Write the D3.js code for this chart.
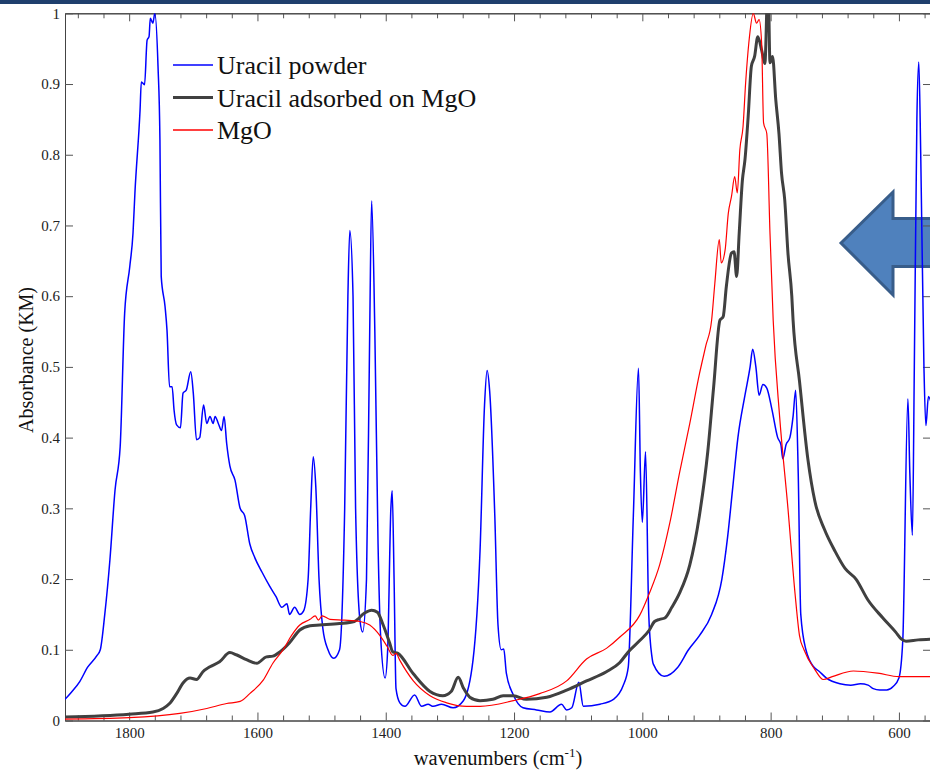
<!DOCTYPE html>
<html>
<head>
<meta charset="utf-8">
<script src="https://cdn.jsdelivr.net/npm/d3@7"></script>
<style>
body { margin: 0; background: #fff; }
svg { display: block; font-family: "Liberation Serif", "Times New Roman", serif; }
</style>
</head>
<body>
<div id="chart"></div>
<script>
// spectra: [wavenumber (cm-1), absorbance (KM)]
var uracilPowder = [
  [1900,0.030],[1890,0.040],[1877,0.055],[1865,0.075],[1850,0.092],[1845,0.10],[1838,0.15],[1830,0.227],
  [1822,0.326],[1814,0.387],[1807,0.576],[1799,0.642],[1794,0.689],[1791,0.746],[1783,0.863],[1781,0.903],
  [1776,0.899],[1772,0.962],[1769,0.967],[1767,0.993],[1763,0.986],[1760,1.0],[1755,0.925],[1752,0.821],
  [1750,0.628],[1744,0.585],[1741,0.552],[1737,0.472],[1733,0.472],[1730,0.439],[1726,0.418],[1720,0.414],
  [1716,0.463],[1711,0.467],[1704,0.493],[1700,0.463],[1695,0.397],[1690,0.40],[1684,0.446],[1679,0.42],
  [1674,0.43],[1669,0.42],[1666,0.43],[1661,0.42],[1656,0.41],[1652,0.43],[1648,0.392],[1643,0.36],
  [1635,0.34],[1627,0.30],[1620,0.29],[1612,0.25],[1604,0.23],[1593,0.21],[1581,0.19],[1571,0.175],
  [1562,0.16],[1554,0.165],[1550,0.15],[1542,0.16],[1534,0.15],[1528,0.155],[1521,0.20],[1517,0.30],
  [1513,0.373],[1509,0.33],[1504,0.20],[1498,0.13],[1490,0.10],[1481,0.088],[1472,0.10],[1464,0.30],
  [1459,0.60],[1456,0.693],[1451,0.60],[1447,0.30],[1440,0.14],[1436,0.125],[1430,0.20],[1425,0.55],
  [1422,0.735],[1417,0.55],[1412,0.25],[1408,0.12],[1401,0.06],[1397,0.10],[1392,0.30],[1390,0.325],
  [1387,0.20],[1384,0.045],[1378,0.025],[1370,0.02],[1355,0.036],[1344,0.02],[1334,0.023],[1326,0.02],
  [1313,0.023],[1295,0.018],[1279,0.028],[1264,0.085],[1253,0.24],[1246,0.446],[1242,0.495],[1238,0.466],
  [1230,0.29],[1225,0.135],[1220,0.10],[1216,0.101],[1212,0.067],[1201,0.036],[1186,0.018],[1165,0.015],
  [1144,0.012],[1126,0.023],[1118,0.015],[1110,0.018],[1099,0.054],[1092,0.02],[1066,0.023],[1045,0.03],
  [1030,0.049],[1022,0.075],[1014,0.29],[1006,0.498],[1003,0.35],[1000,0.28],[995,0.38],[990,0.15],
  [985,0.09],[983,0.08],[966,0.0625],[945,0.075],[928,0.1],[911,0.12],[892,0.15],[876,0.2],
  [867,0.26],[859,0.33],[851,0.4],[840,0.46],[832,0.5],[828,0.525],[823,0.5],[818,0.46],
  [812,0.475],[806,0.47],[798,0.44],[789,0.4],[784,0.39],[781,0.37],[776,0.39],[770,0.4],
  [765,0.43],[761,0.467],[757,0.35],[753,0.15],[745,0.1],[732,0.075],[725,0.07],[713,0.06],
  [692,0.052],[675,0.05],[660,0.052],[648,0.05],[640,0.045],[630,0.043],[619,0.043],[609,0.048],
  [600,0.06],[594,0.113],[586,0.455],[583,0.35],[579,0.262],[576,0.5],[572,0.85],[569,0.931],
  [566,0.8],[561,0.5],[558,0.417],[554,0.458],[550,0.45]
];

var uracilOnMgO = [
  [1900,0.005],[1800,0.009],[1763,0.012],[1747,0.017],[1737,0.024],[1726,0.038],[1716,0.053],[1705,0.06],
  [1695,0.058],[1685,0.069],[1674,0.076],[1659,0.083],[1643,0.096],[1633,0.093],[1617,0.086],[1601,0.081],
  [1586,0.09],[1576,0.091],[1565,0.097],[1550,0.11],[1534,0.128],[1518,0.134],[1503,0.135],[1472,0.137],
  [1449,0.14],[1433,0.152],[1422,0.156],[1413,0.153],[1404,0.135],[1394,0.11],[1389,0.097],[1381,0.095],
  [1357,0.066],[1331,0.041],[1311,0.035],[1298,0.041],[1287,0.061],[1279,0.046],[1269,0.033],[1253,0.028],
  [1233,0.03],[1217,0.035],[1201,0.035],[1181,0.03],[1149,0.033],[1118,0.043],[1087,0.056],[1056,0.069],
  [1035,0.082],[1022,0.097],[1004,0.113],[989,0.128],[981,0.14],[973,0.143],[965,0.145],[954,0.16],
  [942,0.18],[926,0.22],[911,0.29],[898,0.38],[889,0.47],[879,0.566],[874,0.571],[869,0.614],
  [861,0.661],[857,0.663],[853,0.628],[849,0.689],[844,0.764],[840,0.793],[835,0.854],[830,0.925],
  [825,0.939],[820,0.967],[814,0.948],[809,0.929],[804,1.05],[801,0.93],[797,0.939],[792,0.878],
  [787,0.83],[783,0.774],[778,0.736],[773,0.661],[767,0.6],[765,0.566],[755,0.48],[742,0.37],
  [731,0.31],[716,0.27],[700,0.24],[684,0.215],[667,0.2],[648,0.17],[625,0.145],[605,0.125],
  [596,0.115],[589,0.112],[570,0.114],[550,0.115]
];

var mgO = [
  [1900,0.002],[1800,0.004],[1721,0.01],[1679,0.017],[1648,0.024],[1627,0.027],[1612,0.038],[1591,0.057],
  [1576,0.081],[1560,0.1],[1547,0.12],[1534,0.135],[1518,0.143],[1510,0.148],[1505,0.142],[1499,0.148],
  [1487,0.143],[1464,0.142],[1440,0.14],[1425,0.135],[1409,0.12],[1398,0.105],[1389,0.092],[1384,0.095],
  [1378,0.085],[1357,0.056],[1331,0.035],[1305,0.025],[1274,0.02],[1253,0.02],[1201,0.028],[1160,0.038],
  [1118,0.056],[1087,0.087],[1056,0.102],[1035,0.118],[1004,0.149],[989,0.18],[973,0.22],[957,0.28],
  [942,0.35],[926,0.42],[911,0.49],[901,0.53],[892,0.566],[887,0.618],[880,0.68],[877,0.647],
  [871,0.665],[866,0.717],[861,0.741],[856,0.769],[852,0.746],[848,0.807],[843,0.84],[839,0.901],
  [834,0.958],[827,1.0],[822,0.986],[818,0.991],[814,0.958],[811,0.845],[806,0.83],[801,0.689],
  [796,0.566],[786,0.43],[773,0.3],[762,0.18],[755,0.12],[748,0.1],[731,0.072],[718,0.058],
  [704,0.062],[671,0.07],[633,0.067],[600,0.062],[550,0.062]
];

var seriesNames = ["Uracil powder", "Uracil adsorbed on MgO", "MgO"];
var seriesColors = ["#0000ff", "#404040", "#ff0000"];
var seriesWidths = [1.5, 3, 1.2];

var xTicks = [1800, 1600, 1400, 1200, 1000, 800, 600];
var yTicks = [0, 0.1, 0.2, 0.3, 0.4, 0.5, 0.6, 0.7, 0.8, 0.9, 1];

var W = 930, H = 771;
var plot = {left: 65, right: 931, top: 13.3, bot: 720.5};

var svg = d3.select("#chart").append("svg")
  .attr("width", W)
  .attr("height", H);

svg.append("rect").attr("width", W).attr("height", H).style("fill", "#fff");

// slide header strip
svg.append("rect")
  .attr("x", 0).attr("y", 0)
  .attr("width", W).attr("height", 4)
  .style("fill", "#1f3f6d");

var x = d3.scaleLinear().domain([1900, 550]).range([plot.left, plot.right]);
var y = d3.scaleLinear().domain([0, 1]).range([plot.bot, plot.top]);

svg.append("clipPath").attr("id", "plotClip")
  .append("rect")
  .attr("x", plot.left).attr("y", plot.top)
  .attr("width", plot.right - plot.left)
  .attr("height", plot.bot - plot.top);

// arrow callout (drawn under the spectra)
var arrowPts = [[841,243],[893,192],[893,218.5],[945,218.5],[945,266.5],[893,266.5],[893,295]];
svg.append("polygon")
  .attr("points", arrowPts.map(function(p){ return p.join(","); }).join(" "))
  .style("fill", "#4f81bd")
  .style("stroke", "#385d8a")
  .style("stroke-width", 3)
  .style("stroke-linejoin", "miter");

// axes (ticks point inward, box on all four sides)
function styleAxis(g) {
  g.select(".domain").style("stroke", "#444").style("stroke-width", 1);
  g.selectAll(".tick line").style("stroke", "#555");
  g.selectAll(".tick text")
    .style("font-family", "'Liberation Serif', 'Times New Roman', serif")
    .style("font-size", "15px")
    .style("fill", "#222");
}

var minorTicks = d3.range(560, 1900, 40).filter(function(v){ return xTicks.indexOf(v) < 0; });

svg.append("g")
  .attr("transform", "translate(0," + plot.bot + ")")
  .call(d3.axisBottom(x).tickValues(minorTicks).tickSizeInner(-5).tickSizeOuter(0).tickFormat(""))
  .call(styleAxis);
svg.append("g")
  .attr("transform", "translate(0," + plot.bot + ")")
  .call(d3.axisBottom(x).tickValues(xTicks).tickSizeInner(-8).tickSizeOuter(0).tickPadding(7).tickFormat(d3.format("d")))
  .call(styleAxis);

svg.append("g")
  .attr("transform", "translate(0," + plot.top + ")")
  .call(d3.axisTop(x).tickValues(minorTicks).tickSizeInner(-5).tickSizeOuter(0).tickFormat(""))
  .call(styleAxis);
svg.append("g")
  .attr("transform", "translate(0," + plot.top + ")")
  .call(d3.axisTop(x).tickValues(xTicks).tickSizeInner(-8).tickSizeOuter(0).tickFormat(""))
  .call(styleAxis);

svg.append("g")
  .attr("transform", "translate(" + plot.left + ",0)")
  .call(d3.axisLeft(y).tickValues(yTicks).tickSizeInner(-8).tickSizeOuter(0).tickPadding(5).tickFormat(function(d){ return d3.format("")(+d.toFixed(1)); }))
  .call(styleAxis);
svg.append("g")
  .attr("transform", "translate(" + plot.right + ",0)")
  .call(d3.axisRight(y).tickValues(yTicks).tickSizeInner(-8).tickSizeOuter(0).tickFormat(""))
  .call(styleAxis);

// spectra
var line = d3.line()
  .x(function(d){ return x(d[0]); })
  .y(function(d){ return y(d[1]); })
  .curve(d3.curveMonotoneX);

var lineG = svg.append("g").attr("clip-path", "url(#plotClip)");
[uracilPowder, uracilOnMgO, mgO].forEach(function(s, i) {
  lineG.append("path")
    .datum(s)
    .attr("d", line)
    .style("fill", "none")
    .style("stroke", seriesColors[i])
    .style("stroke-width", seriesWidths[i])
    .style("stroke-linejoin", "round");
});

// legend
var legend = svg.append("g").attr("class", "legend");
seriesNames.forEach(function(name, i) {
  var ly = 65 + i * 32.5;
  legend.append("line")
    .attr("x1", 173).attr("x2", 213)
    .attr("y1", ly).attr("y2", ly)
    .style("stroke", seriesColors[i])
    .style("stroke-width", i == 1 ? 3 : 1.5);
  legend.append("text")
    .attr("x", 217).attr("y", ly + 9)
    .style("font-size", "26px")
    .style("fill", "#111")
    .text(name);
});

// axis labels
var xl = svg.append("text")
  .attr("x", (plot.left + plot.right) / 2)
  .attr("y", 765)
  .attr("text-anchor", "middle")
  .style("font-size", "20.5px")
  .style("fill", "#111");
xl.append("tspan").text("wavenumbers (cm");
xl.append("tspan").attr("dy", -8).style("font-size", "13px").text("-1");
xl.append("tspan").attr("dy", 8).text(")");

svg.append("text")
  .attr("transform", "translate(33,360) rotate(-90)")
  .attr("text-anchor", "middle")
  .style("font-size", "20px")
  .style("fill", "#111")
  .text("Absorbance (KM)");
</script>
</body>
</html>
